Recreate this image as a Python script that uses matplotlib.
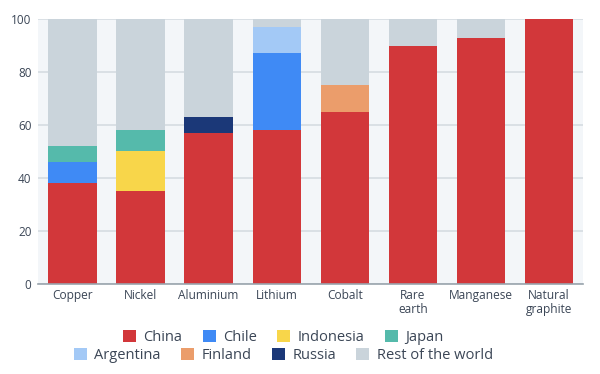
import matplotlib
matplotlib.use("Agg")
import matplotlib.pyplot as plt
from matplotlib.patches import Patch
import numpy as np

categories = ["Copper", "Nickel", "Aluminium", "Lithium", "Cobalt", "Rare\nearth", "Manganese", "Natural\ngraphite"]
series_names = ["China", "Chile", "Indonesia", "Japan", "Argentina", "Finland", "Russia", "Rest of the world"]
china     = [38, 35, 57, 58, 65, 90, 93, 100]
chile     = [8, 0, 0, 29, 0, 0, 0, 0]
indonesia = [0, 15, 0, 0, 0, 0, 0, 0]
japan     = [6, 8, 0, 0, 0, 0, 0, 0]
argentina = [0, 0, 0, 10, 0, 0, 0, 0]
finland   = [0, 0, 0, 0, 10, 0, 0, 0]
russia    = [0, 0, 6, 0, 0, 0, 0, 0]
rest      = [48, 42, 37, 3, 25, 10, 7, 0]
yticks = [0, 20, 40, 60, 80, 100]

colors = ["#d2373a", "#3f8af5", "#f8d64a", "#55baab", "#a3c9f6", "#eb9d6b", "#1b3878", "#cad4db"]
series = [china, chile, indonesia, japan, argentina, finland, russia, rest]

plt.rcParams['font.family'] = ['Open Sans', 'DejaVu Sans']
fig = plt.figure(figsize=(6, 3.74), dpi=100)
ax = fig.add_axes([0.064, 0.241, 0.908, 0.708])
ax.set_facecolor("#f3f6f9")

x = np.arange(len(categories))
bottom = np.zeros(len(categories))
for vals, c in zip(series, colors):
    v = np.array(vals, dtype=float)
    ax.bar(x, v, bottom=bottom, width=0.71, color=c, zorder=3, linewidth=0)
    bottom += v

ax.set_xlim(-0.5, len(categories) - 0.5)
ax.set_ylim(0, 100)
ax.set_yticks(yticks)
ax.set_yticklabels([str(t) for t in yticks], fontsize=8.5, color="#3b4656")
ax.set_xticks(x)
ax.set_xticklabels(categories, fontsize=8.6, color="#3b4656", linespacing=1.1)
ax.tick_params(axis='both', length=0, pad=4)
ax.tick_params(axis='y', pad=5)
ax.grid(axis='y', color="#d5dce1", linewidth=1.2, zorder=1)
for s in ["top", "right", "left"]:
    ax.spines[s].set_visible(False)
ax.spines["bottom"].set_color("#9aa4ad")
ax.spines["bottom"].set_linewidth(1.2)
ax.spines["bottom"].set_zorder(4)

handles = [Patch(facecolor=c, edgecolor='none') for c in colors]
kw = dict(frameon=False, fontsize=10.5, handlelength=0.9, handleheight=0.9,
          handletextpad=0.5, columnspacing=1.4, labelcolor="#3b4656")
fig.legend(handles[:4], series_names[:4], ncol=4, loc='center',
           bbox_to_anchor=(0.472, 0.098), **kw)
fig.legend(handles[4:], series_names[4:], ncol=4, loc='center',
           bbox_to_anchor=(0.472, 0.050), **kw)

fig.savefig("out.png", dpi=100)
